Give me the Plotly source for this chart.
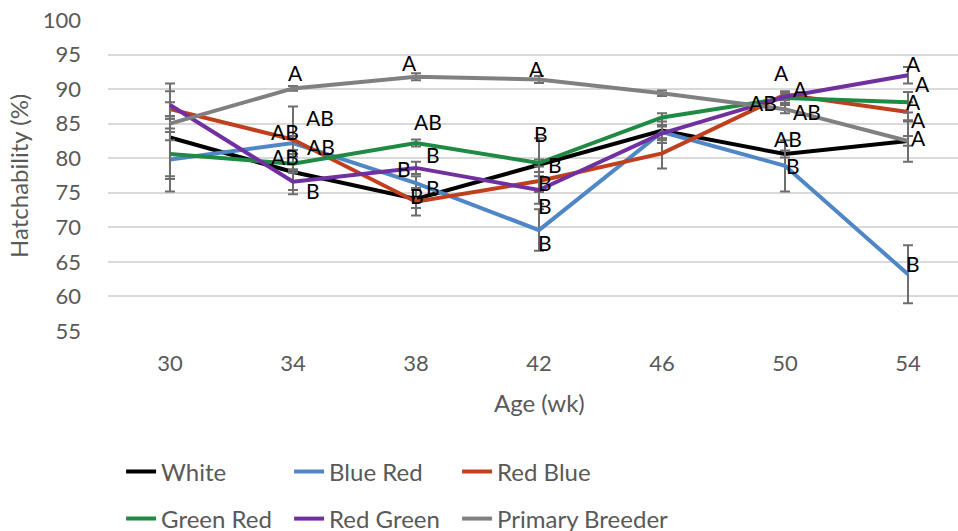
import plotly.graph_objects as go

ages = [30, 34, 38, 42, 46, 50, 54]
series_names = ["White", "Blue Red", "Red Blue", "Green Red", "Red Green", "Primary Breeder"]

white = [83.0, 78.0, 74.1, 79.0, 84.0, 80.6, 82.5]
blue_red = [79.8, 82.2, 76.4, 69.6, 83.8, 78.9, 63.2]
red_blue = [87.1, 82.7, 73.7, 76.7, 80.7, 89.2, 86.7]
green_red = [80.6, 79.2, 82.2, 79.3, 85.9, 88.7, 88.1]
red_green = [87.7, 76.6, 78.6, 75.4, 83.6, 88.9, 92.0]
primary = [85.0, 90.1, 91.8, 91.4, 89.4, 87.1, 82.5]

white_err = [7.8, 2.6, 1.3, 3.9, 1.8, 0.5, 3.0]
blue_red_err = [2.8, 1.0, 1.0, 3.0, 1.0, 3.7, 4.2]
red_blue_err = [1.0, 4.8, 2.0, 1.3, 2.2, 0.5, 1.4]
green_red_err = [3.2, 1.0, 0.5, 0.5, 0.6, 0.7, 1.5]
red_green_err = [2.0, 1.8, 0.9, 2.0, 1.0, 0.5, 1.2]
primary_err = [0.7, 0.35, 0.5, 0.5, 0.4, 0.6, 0.7]

white_lbl = ["", "AB", "B", "B", "", "AB", "A"]
blue_red_lbl = ["", "AB", "B", "B", "", "B", "B"]
red_blue_lbl = ["", "AB", "B", "B", "", "A", "A"]
green_red_lbl = ["", "AB", "AB", "B", "", "AB", "A"]
red_green_lbl = ["", "B", "B", "B", "", "A", "A"]
primary_lbl = ["", "A", "A", "A", "", "AB", "A"]

values = [white, blue_red, red_blue, green_red, red_green, primary]
errors = [white_err, blue_red_err, red_blue_err, green_red_err, red_green_err, primary_err]
labels = [white_lbl, blue_red_lbl, red_blue_lbl, green_red_lbl, red_green_lbl, primary_lbl]

colors = ["#000000", "#4F86C6", "#C0401E", "#1E8A43", "#7030A0", "#808080"]

# label offsets in pixels (dx right, dy down) per series per point
offsets = [
    [(0, 0), (27, -55), (17, -12), (16, -1), (0, 0), (3, -16), (10, -3)],
    [(0, 0), (28, 3), (-12, -15), (6, 12), (0, 0), (8, 0), (5, -11)],
    [(0, 0), (-8, -8), (1, -6), (6, 1), (0, 0), (-4, -22), (5, -10)],
    [(0, 0), (-8, -7), (12, -22), (2, -30), (0, 0), (-22, 4), (14, -19)],
    [(0, 0), (20, 9), (17, -13), (6, 15), (0, 0), (15, -8), (5, -12)],
    [(0, 0), (3, -16), (-7, -14), (-3, -11), (0, 0), (22, 2), (10, -21)],
]

FONT = "Lato, 'Open Sans', sans-serif"
GREY_TXT = "#595959"

fig = go.Figure()
for i, name in enumerate(series_names):
    fig.add_trace(go.Scatter(
        x=ages, y=values[i], mode="lines", name=name,
        line=dict(color=colors[i], width=4),
        error_y=dict(type="data", array=errors[i], visible=True,
                     color="#6E6E6E", thickness=2, width=5),
        legend="legend" if i < 3 else "legend2",
        legendwidth=200 if i == 5 else None,
    ))

annotations = []
for i in range(len(series_names)):
    for j, a in enumerate(ages):
        t = labels[i][j]
        if not t:
            continue
        dx, dy = offsets[i][j]
        annotations.append(dict(
            x=a, y=values[i][j], xref="x", yref="y", text=t, showarrow=False,
            xshift=dx, yshift=-dy, font=dict(family=FONT, size=21, color="#000000"),
        ))

annotations.append(dict(
    x=42, y=-0.2315, xref="x", yref="paper", text="Age (wk)", showarrow=False,
    yanchor="middle", font=dict(family=FONT, size=24, color=GREY_TXT)))
annotations.append(dict(
    x=-0.1053, y=0.5, xref="paper", yref="paper", text="Hatchability (%)",
    showarrow=False, textangle=-90, xanchor="center", yanchor="middle",
    font=dict(family=FONT, size=24, color=GREY_TXT)))

legend_common = dict(
    orientation="h", xanchor="left", yanchor="middle",
    entrywidth=123, entrywidthmode="pixels", bgcolor="rgba(0,0,0,0)",
    font=dict(family=FONT, size=24, color=GREY_TXT), itemwidth=30,
)

fig.update_layout(
    width=958, height=531,
    margin=dict(l=108, r=0, t=20, b=200, autoexpand=False),
    paper_bgcolor="white", plot_bgcolor="white",
    font=dict(family=FONT, size=24, color=GREY_TXT),
    xaxis=dict(range=[27.984, 55.626], tickvals=ages, ticktext=[str(a) for a in ages],
               showgrid=False, zeroline=False, showline=False, ticks="",
               ticklabelstandoff=17, tickfont=dict(family=FONT, size=22, color=GREY_TXT)),
    yaxis=dict(range=[55, 100], dtick=5, showgrid=True, gridcolor="#D9D9D9", gridwidth=1.5,
               zeroline=False, showline=False, ticks="", ticklabelstandoff=26,
               tickfont=dict(family=FONT, size=22, color=GREY_TXT)),
    legend=dict(x=0.0154, y=-0.4534, **legend_common),
    legend2=dict(x=0.0154, y=-0.6045, **legend_common),
    annotations=annotations,
    showlegend=True,
)

fig.write_html("out.html", config={"displayModeBar": False},
               post_script="document.body.style.margin='0';")
